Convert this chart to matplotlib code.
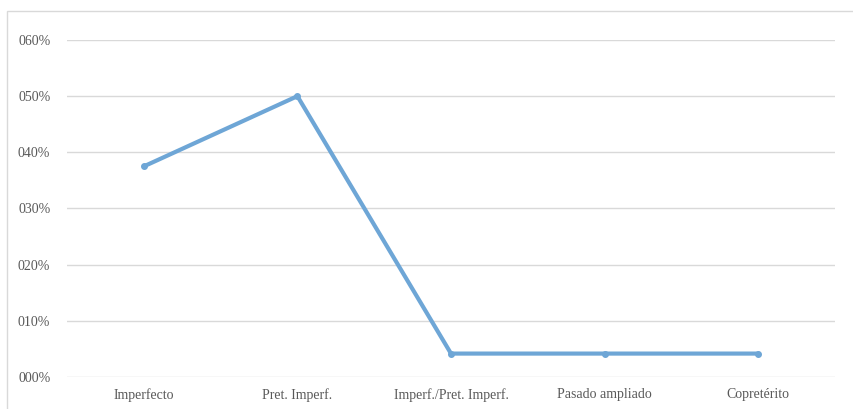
import matplotlib.pyplot as plt
from matplotlib.patches import Rectangle
from matplotlib.ticker import FuncFormatter

categories = ["Imperfecto", "Pret. Imperf.", "Imperf./Pret. Imperf.", "Pasado ampliado", "Copretérito"]
values = [0.375, 0.50, 0.0417, 0.0417, 0.0417]
yticks = [0.0, 0.1, 0.2, 0.3, 0.4, 0.5, 0.6]

plt.rcParams['font.family'] = ['Liberation Serif', 'DejaVu Serif']

W, H = 854, 409
fig = plt.figure(figsize=(W / 100, H / 100), dpi=100)

# outer chart border (partly cropped in the original)
fig.patches.append(Rectangle((7 / W, -0.1), 1.0, (H - 11) / H + 0.1,
                             transform=fig.transFigure, fill=False,
                             edgecolor="#d9d9d9", linewidth=1))

ax = fig.add_axes([67 / W, (H - 377) / H, (835 - 67) / W, (377 - 40) / H])
x = range(len(categories))
ax.plot(x, values, color="#6ea6d6", linewidth=3, marker="o", markersize=4,
        solid_capstyle="round")

ax.set_xlim(-0.5, len(categories) - 0.5)
ax.set_ylim(0, 0.6)
ax.set_yticks(yticks)
ax.yaxis.set_major_formatter(FuncFormatter(lambda v, p: "0%02d%%" % round(v * 100)))
ax.set_xticks(list(x))
ax.set_xticklabels(categories)
ax.grid(axis="y", color="#d9d9d9", linewidth=1)
ax.set_axisbelow(True)
for s in ax.spines.values():
    s.set_visible(False)
ax.tick_params(length=0, labelsize=10, labelcolor="#595959")
ax.tick_params(axis="y", pad=12)
ax.tick_params(axis="x", pad=8)

fig.savefig("out.png", dpi=100)
